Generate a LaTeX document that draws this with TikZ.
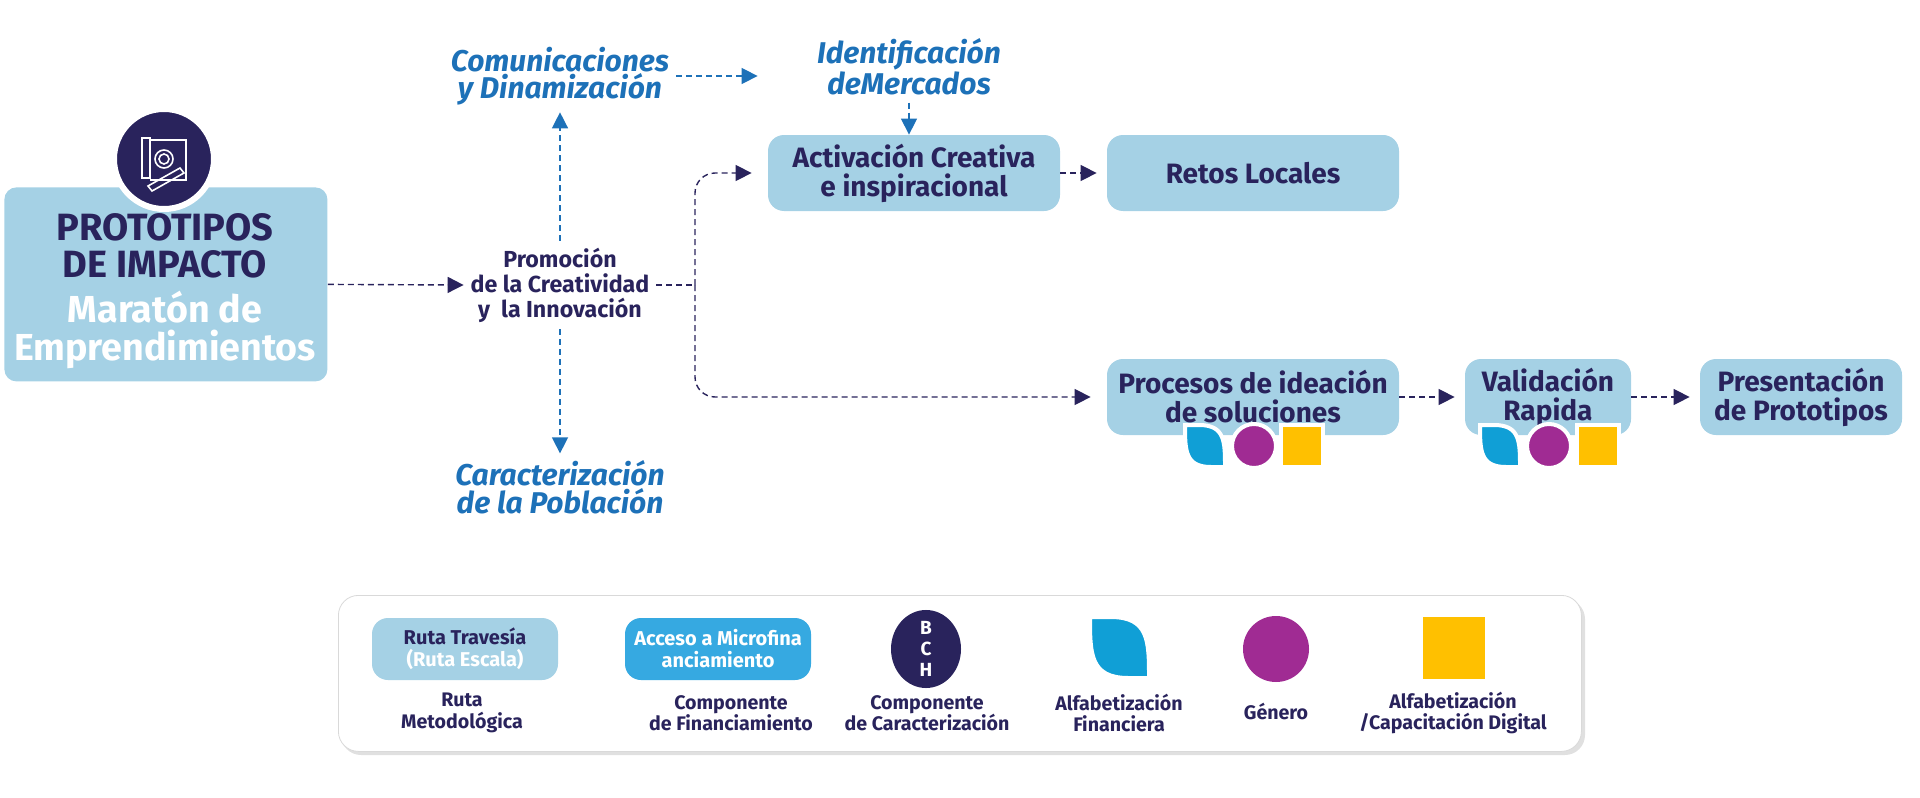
\documentclass[tikz,border=0pt]{standalone}
\usepackage{fontspec}
\setmainfont{Fira Sans}
\usetikzlibrary{arrows.meta,positioning,shapes.geometric}
\definecolor{navy}{HTML}{29235C}
\definecolor{skyblue}{HTML}{A5D1E5}
\definecolor{textblue}{HTML}{1D71B8}
\definecolor{accblue}{HTML}{36A9E1}
\definecolor{leafblue}{HTML}{109FD6}
\definecolor{purple}{HTML}{A02B93}
\definecolor{gold}{HTML}{FFC000}
\newcommand{\leafshape}[5]{% x y w h colour
  \fill[#5,draw=white,line width=2pt] (#1,#2) -- ({#1+0.35*#3},#2) .. controls ({#1+#3},#2) and ({#1+#3},{#2+0.4*#4}) .. ({#1+#3},{#2+#4})
    -- ({#1+0.65*#3},{#2+#4}) .. controls (#1,{#2+#4}) and (#1,{#2+0.6*#4}) .. (#1,#2) -- cycle;}
\tikzset{%
  box/.style={rounded corners=8pt,fill=skyblue,text=navy,align=center,
    font=\bfseries\fontsize{14}{14.5}\selectfont,inner sep=2pt},
  flow/.style={densely dashed,navy,line width=0.7pt,-{Triangle[length=8pt,width=8pt]}},
  bflow/.style={densely dashed,textblue,line width=0.7pt,-{Triangle[length=8pt,width=8pt]}},
  blue label/.style={text=textblue,align=center,font=\bfseries\itshape\fontsize{15}{12.5}\selectfont},
  legend text/.style={text=navy,align=center,font=\bfseries\fontsize{9.8}{10.8}\selectfont},
  dot/.style={circle,fill=purple,draw=white,line width=2pt,inner sep=0pt}
}
\begin{document}
\begin{tikzpicture}[x=0.5pt,y=-0.5pt]
  \useasboundingbox (0,0) rectangle (1920,797);

  % main block
  \node[box,rounded corners=6pt,minimum width=161.5pt,minimum height=97pt,anchor=north west] (main) at (4,187) {};
  \node[text=navy,font=\bfseries\fontsize{19}{18.5}\selectfont,align=center] (title) at (165,246) {PROTOTIPOS\\DE IMPACTO};
  \node[text=white,font=\bfseries\fontsize{18.8}{19}\selectfont,align=center] (subtitle) at (165,330) {Maratón de\\Emprendimientos};
  \node[circle,fill=navy,draw=white,line width=3pt,minimum size=50pt] (icon) at (164,159) {};
  \begin{scope}[white,line width=0.8pt]
    \draw (142,138) rectangle (150,178);
    \draw (150,140) -- (186,140) -- (186,180) -- (150,180);
    \draw (164,159) circle (5) circle (9);
    \draw (148,186) -- (180,168) -- (184,173) -- (152,191) -- cycle;
  \end{scope}

  % middle
  \node[text=navy,align=center,font=\bfseries\fontsize{11.6}{12.5}\selectfont] (prom) at (560,285) {Promoción\\de la Creatividad\\y\ \ la Innovación};
  \node[blue label] (com) at (560,76) {Comunicaciones\\y Dinamización};
  \node[blue label] (car) at (560,487) {Caracterización\\de la Población};
  \node[blue label] (ident) at (909,67) {Identificación\\deMercados};
  \coordinate (br) at (695,285);

  % boxes
  \node[box,minimum width=146pt,minimum height=38pt] (act) at (914,173) {Activación Creativa\\e inspiracional};
  \node[box,minimum width=146pt,minimum height=38pt] (retos) at (1253,173) {Retos Locales};
  \node[box,minimum width=146pt,minimum height=38pt] (proc) at (1253,397) {Procesos de ideación\\de soluciones};
  \node[box,minimum width=83pt,minimum height=38pt] (valid) at (1548,397) {Validación\\Rapida};
  \node[box,minimum width=101pt,minimum height=38pt] (pres) at (1801,397) {Presentación\\de Prototipos};

  % markers under boxes
  \leafshape{1185}{425}{40}{42}{leafblue}
  \node[dot,minimum size=22pt] (g1) at (1254,446) {};
  \node[fill=gold,draw=white,line width=2pt,minimum size=21pt,inner sep=0pt] (s1) at (1302,446) {};
  \leafshape{1480}{425}{40}{42}{leafblue}
  \node[dot,minimum size=22pt] (g2) at (1549,446) {};
  \node[fill=gold,draw=white,line width=2pt,minimum size=21pt,inner sep=0pt] (s2) at (1598,446) {};

  % connectors
  \draw[flow] (main.east) -- (prom.west);
  \draw[bflow] (prom.north) -- (com.south);
  \draw[bflow] (prom.south) -- (car.north);
  \draw[bflow] (com.east) -- ([xshift=-5pt]act.north west |- com.east);
  \draw[bflow] (ident.south) -- (act.north -| ident.south);
  \draw[densely dashed,navy,line width=0.7pt] (prom.east) -- (br);
  \draw[flow,rounded corners=10pt] (br) |- ([xshift=-8pt]act.west);
  \draw[flow,rounded corners=10pt] (br) |- ([xshift=-8pt]proc.west);
  \draw[flow] (act.east) -- ([xshift=-5pt]retos.west);
  \draw[flow] (proc.east) -- ([xshift=-5pt]valid.west);
  \draw[flow] (valid.east) -- ([xshift=-5pt]pres.west);

  % legend
  \fill[black!12,rounded corners=10pt] (341,599) rectangle (1585,755);
  \node[fill=white,draw=black!15,rounded corners=10pt,minimum width=621.5pt,minimum height=78pt,anchor=north west] (legend) at (338,595) {};
  \node[box,rounded corners=8pt,minimum width=93pt,minimum height=31pt,font=\bfseries\fontsize{10}{11}\selectfont] (lruta) at (465,649) {Ruta Travesía\\\textcolor{white}{(Ruta Escala)}};
  \node[box,fill=accblue,text=white,rounded corners=8pt,minimum width=93pt,minimum height=31pt,font=\bfseries\fontsize{10}{11}\selectfont] (lacc) at (718,649) {Acceso a Microfina\\anciamiento};
  \node[ellipse,fill=navy,text=white,minimum width=35pt,minimum height=34pt,inner sep=0pt,align=center,font=\bfseries\fontsize{9.5}{10.5}\selectfont] (lbch) at (926,649) {B\\C\\H};
  \leafshape{1090}{617}{59}{61}{leafblue}
  \coordinate (lleaf) at (1119,648);
  \node[dot,draw=none,minimum size=33pt] (lgen) at (1276,649) {};
  \node[fill=gold,minimum width=31pt,minimum height=31pt,inner sep=0pt] (lsq) at (1454,648) {};
  \node[legend text] at (462,713) {Ruta\\Metodológica};
  \node[legend text] at (731,713) {Componente\\de Financiamiento};
  \node[legend text] at (927,713) {Componente\\de Caracterización};
  \node[legend text] at (1119,713) {Alfabetización\\Financiera};
  \node[legend text] at (1276,711) {Género};
  \node[legend text] at (1453,713) {Alfabetización\\/Capacitación Digital};
\end{tikzpicture}
\end{document}
